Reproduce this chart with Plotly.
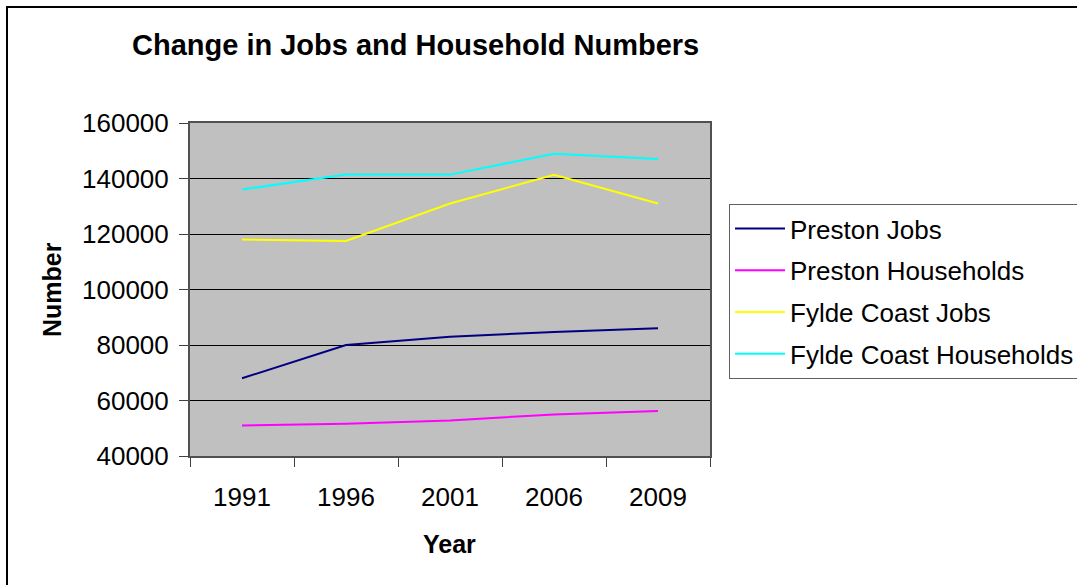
import plotly.graph_objects as go

years = ["1991", "1996", "2001", "2006", "2009"]
preston_jobs = [68000, 80000, 83000, 84700, 86000]
preston_households = [51000, 51600, 52800, 55000, 56200]
fylde_jobs = [118000, 117500, 131000, 141300, 131000]
fylde_households = [136000, 141400, 141400, 148900, 147000]

series_names = ["Preston Jobs", "Preston Households", "Fylde Coast Jobs", "Fylde Coast Households"]
series_values = [preston_jobs, preston_households, fylde_jobs, fylde_households]
series_colors = ["#000080", "#FF00FF", "#FFFF00", "#00FFFF"]

W, H = 1077, 585
L, R, T, B = 190, 710, 123, 456  # plot area pixel bounds

fig = go.Figure()
for i, (name, vals, col) in enumerate(zip(series_names, series_values, series_colors)):
    fig.add_trace(go.Scatter(
        x=years, y=vals, name=name, mode="lines",
        line=dict(color=col, width=2),
        legendgroup=f"g{i}",
    ))

def px_x(x):
    return (x - L) / (R - L)

def px_y(y):
    return (B - y) / (B - T)

font = "Liberation Sans, Arial, sans-serif"

fig.update_layout(
    width=W, height=H,
    margin=dict(l=L, r=W - R, t=T, b=H - B, autoexpand=False),
    paper_bgcolor="white",
    plot_bgcolor="#C0C0C0",
    font=dict(family=font, size=26, color="black"),
    showlegend=True,
    legend=dict(
        xref="container", yref="container",
        x=729 / W, y=1 - 204 / H, xanchor="left", yanchor="top",
        bordercolor="#606060", borderwidth=1,
        bgcolor="white",
        font=dict(size=26, family=font),
        tracegroupgap=5,
        traceorder="grouped",
        itemwidth=50,
    ),
    xaxis=dict(
        type="category",
        range=[-0.5, 4.5],
        tickson="boundaries",
        ticks="outside", ticklen=9, tickcolor="#404040", tickwidth=1,
        showgrid=False,
        showline=True, linecolor="#505050", linewidth=2, mirror=True,
        tickfont=dict(size=26),
        ticklabelstandoff=17,
        automargin=False,
    ),
    yaxis=dict(
        range=[40000, 160000],
        dtick=20000,
        tickformat="d",
        ticks="outside", ticklen=9, tickcolor="#404040", tickwidth=1,
        showgrid=True, gridcolor="black", gridwidth=1,
        showline=True, linecolor="#505050", linewidth=2, mirror=True,
        tickfont=dict(size=26),
        ticklabelstandoff=5,
        zeroline=False,
        automargin=False,
    ),
    annotations=[
        dict(text="<b>Change in Jobs and Household Numbers</b>", xref="paper", yref="paper",
             x=px_x(415), y=px_y(45), xanchor="center", yanchor="middle",
             showarrow=False, font=dict(size=29, family=font)),
        dict(text="<b>Number</b>", xref="paper", yref="paper",
             x=px_x(52), y=px_y(290), xanchor="center", yanchor="middle",
             textangle=-90, showarrow=False, font=dict(size=25, family=font)),
        dict(text="<b>Year</b>", xref="paper", yref="paper",
             x=px_x(449), y=px_y(544), xanchor="center", yanchor="middle",
             showarrow=False, font=dict(size=25, family=font)),
    ],
    shapes=[
        dict(type="rect", xref="paper", yref="paper",
             x0=px_x(7), y0=px_y(620), x1=px_x(1120), y1=px_y(7),
             line=dict(color="black", width=2), fillcolor="rgba(0,0,0,0)", layer="below"),
    ],
)

fig.write_html("out.html")
